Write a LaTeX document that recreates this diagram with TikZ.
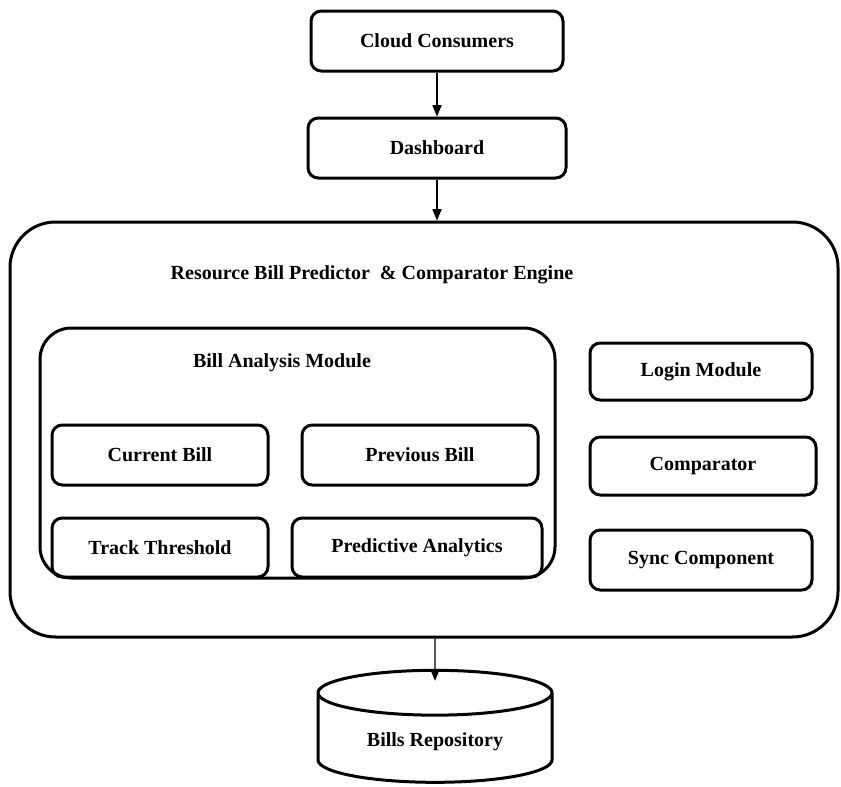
\documentclass[tikz,border=0pt]{standalone}
\usepackage{fontspec}
\setmainfont{Liberation Serif}
\usetikzlibrary{arrows.meta,positioning,shapes.geometric}

\begin{document}
\begin{tikzpicture}[
  x=0.5pt,y=-0.5pt,
  every node/.style={font=\bfseries},
  box/.style={rounded corners=1.8mm,draw,line width=1.5pt,align=center,minimum height=30pt},
  frame/.style={draw,line width=1.5pt},
  arrow/.style={-{Triangle[length=2mm,width=1.6mm]},line width=0.7pt}
]
\useasboundingbox (0,0) rectangle (841,787);
% stack on top
\node[box,minimum width=126pt] (cloud) at (437,41) {Cloud Consumers};
\node[box,minimum width=129pt] (dashboard) at (437,148) {Dashboard};
% engine with its modules
\node[frame,rounded corners=8mm,minimum width=414pt,minimum height=207.5pt] (engine) at (424,429.5) {};
\node (enginetitle) at (372,275) {Resource Bill Predictor\ \ \& Comparator Engine};
\node[frame,rounded corners=5.5mm,minimum width=257.5pt,minimum height=125pt] (analysis) at (297.5,453) {};
\node (analysistitle) at (282,363) {Bill Analysis Module};
\node[box,minimum width=108pt] (current) at (160,455) {Current Bill};
\node[box,minimum width=118pt] (previous) at (420,455) {Previous Bill};
\node[box,minimum width=108pt,minimum height=29.5pt] (threshold) at (160,547.5) {Track Threshold};
\node[box,minimum width=125pt,minimum height=29.5pt] (predictive) at (417,547.5) {Predictive Analytics};
\node[box,minimum width=111pt,minimum height=28.5pt] (login) at (701,371.5) {Login Module};
\node[box,minimum width=113pt,minimum height=29pt] (comparator) at (703,466) {Comparator};
\node[box,minimum width=111pt] (sync) at (701,560) {Sync Component};
% storage
\node[frame,cylinder,shape border rotate=90,aspect=0.3,minimum width=117pt,minimum height=56pt] (repo) at (435,742) {Bills Repository};
\draw[arrow] (cloud) -- (dashboard);
\draw[arrow] (dashboard) -- (dashboard |- engine.north);
\draw[arrow] (repo |- engine.south) -- ([yshift=-6pt]repo.north);
\end{tikzpicture}
\end{document}
